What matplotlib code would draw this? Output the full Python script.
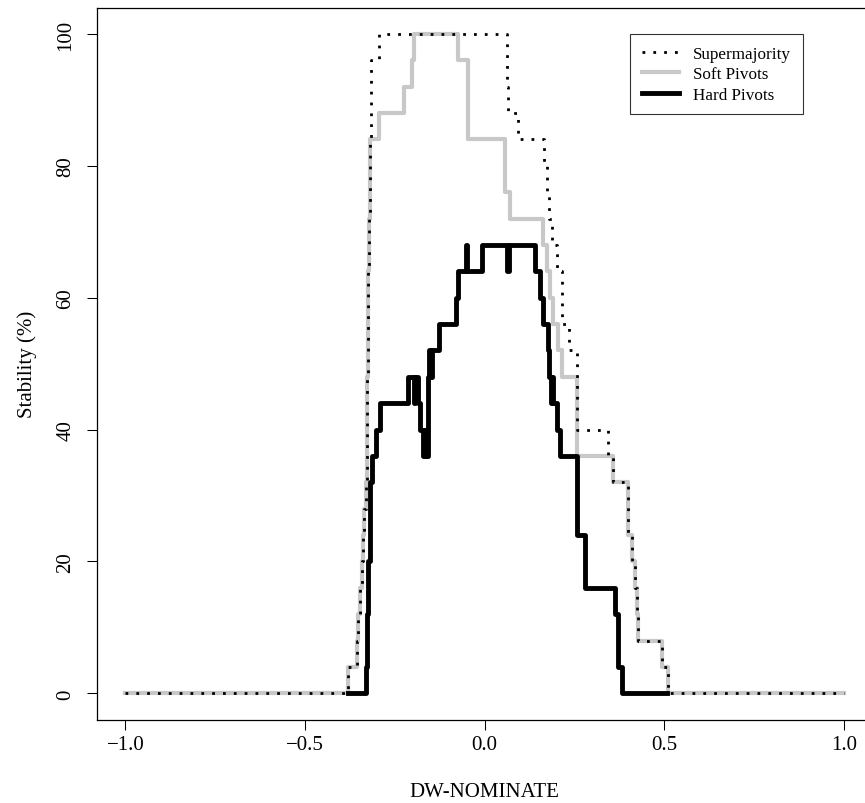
import matplotlib.pyplot as plt

plt.rcParams['font.family'] = ['Liberation Serif', 'DejaVu Serif']

# step positions (DW-NOMINATE) and stability (%) from each position on
super_x = [-1.0, -0.379, -0.354, -0.352, -0.347, -0.340, -0.338, -0.336,
           -0.329, -0.328, -0.327, -0.325, -0.324, -0.323, -0.320, -0.317,
           -0.293, 0.0615, 0.066, 0.094, 0.165, 0.174, 0.178, 0.187, 0.2007,
           0.2146, 0.236, 0.258, 0.344, 0.358, 0.400, 0.410, 0.419, 0.423,
           0.428, 0.493, 0.511, 1.0]
super_y = [0, 4, 8, 12, 16, 20, 24, 28,
           32, 40, 48, 56, 64, 72, 84, 96,
           100, 92, 88, 84, 80, 76, 72, 68, 64,
           56, 52, 40, 36, 32, 24, 20, 16, 12,
           8, 4, 0, 0]

soft_x = [-1.0, -0.379, -0.354, -0.352, -0.347, -0.340, -0.338, -0.336,
          -0.329, -0.328, -0.327, -0.325, -0.324, -0.323, -0.320, -0.293,
          -0.224, -0.203, -0.196, -0.073, -0.045, 0.057, 0.071, 0.163, 0.173,
          0.182, 0.191, 0.204, 0.215, 0.258, 0.358, 0.400, 0.410, 0.419,
          0.423, 0.428, 0.493, 0.511, 1.0]
soft_y = [0, 4, 8, 12, 16, 20, 24, 28,
          32, 40, 48, 56, 64, 72, 84, 88,
          92, 96, 100, 96, 84, 76, 72, 68, 64,
          60, 56, 52, 48, 36, 32, 24, 20, 16,
          12, 8, 4, 0, 0]

hard_x = [-0.379, -0.329, -0.327, -0.325, -0.3187, -0.3125, -0.3031, -0.2911,
          -0.214, -0.1956, -0.193, -0.1864, -0.180, -0.1706, -0.166, -0.162,
          -0.1584, -0.154, -0.150, -0.1455, -0.1269, -0.0796, -0.0745,
          -0.0523, -0.0476, -0.008, 0.0637, 0.0685, 0.1403, 0.1549, 0.164,
          0.177, 0.180, 0.185, 0.1875, 0.191, 0.201, 0.210, 0.256, 0.279,
          0.363, 0.372, 0.382, 0.507]
hard_y = [0, 4, 12, 20, 32, 36, 40, 44,
          48, 44, 48, 44, 40, 36, 40, 36,
          48, 52, 48, 52, 56, 60, 64,
          68, 64, 68, 64, 68, 64, 60, 56,
          52, 48, 44, 48, 44, 40, 36, 24, 16,
          12, 4, 0, 0]

fig = plt.figure(figsize=(8.65, 8.04), dpi=100)
ax = fig.add_axes([0.1117, 0.1036, 0.897, 0.8857])

ax.step(soft_x, soft_y, where='post', color='#c8c8c8', lw=3.0,
        label='Soft Pivots', zorder=2)
ax.step(super_x, super_y, where='post', color='black', lw=2.0,
        linestyle=(0, (1, 2.9)), label='Supermajority', zorder=3)
ax.step(hard_x, hard_y, where='post', color='black', lw=3.5,
        label='Hard Pivots', zorder=4)

ax.set_xlim(-1.08, 1.08)
ax.set_ylim(-4, 104)
ax.set_xticks([-1.0, -0.5, 0.0, 0.5, 1.0])
ax.set_xticklabels(['\u22121.0', '\u22120.5', '0.0', '0.5', '1.0'])
ax.set_yticks([0, 20, 40, 60, 80, 100])
ax.set_yticklabels(['0', '20', '40', '60', '80', '100'], rotation=90,
                   va='center')
ax.tick_params(direction='out', length=7.2, width=0.75, labelsize=15)
ax.tick_params(axis='x', pad=4)
ax.tick_params(axis='y', pad=8)
for s in ax.spines.values():
    s.set_linewidth(0.9)

ax.set_xlabel('DW-NOMINATE', fontsize=15, labelpad=20)
ax.set_ylabel('Stability (%)', fontsize=15, labelpad=14)

handles, labels = ax.get_legend_handles_labels()
order = [1, 0, 2]
leg = ax.legend([handles[i] for i in order], [labels[i] for i in order],
                loc='upper right', bbox_to_anchor=(0.9103, 0.9629),
                borderaxespad=0, fontsize=12.3, fancybox=False, frameon=True,
                edgecolor='black', handlelength=2.2, handletextpad=0.8,
                borderpad=0.7, labelspacing=0.25)
leg.get_frame().set_linewidth(0.8)

fig.savefig('out.png', dpi=100)
